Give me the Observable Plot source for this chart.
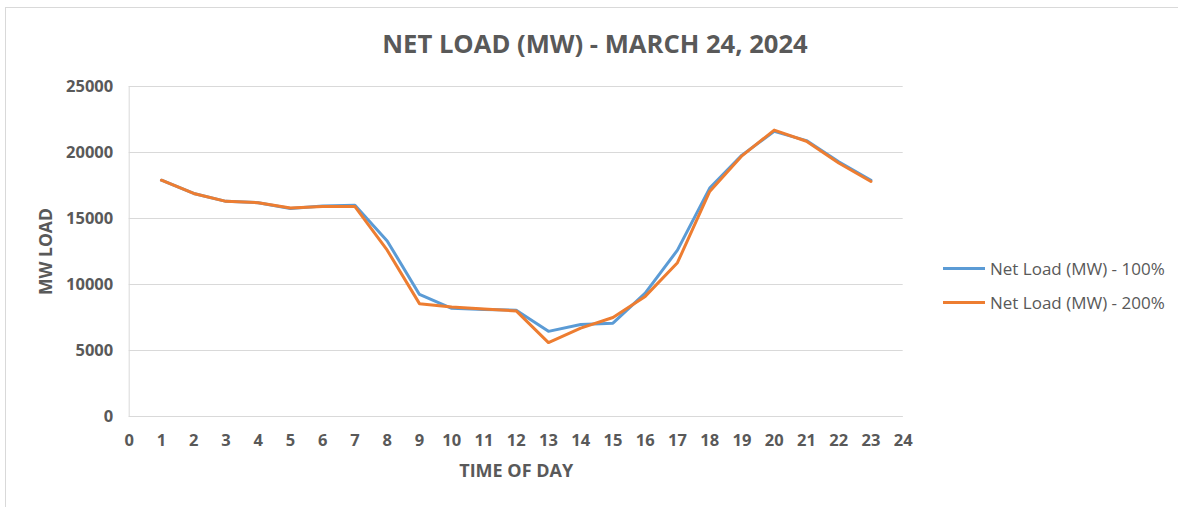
<!DOCTYPE html>
<html>
<head>
<meta charset="utf-8">
<script src="https://cdn.jsdelivr.net/npm/d3@7"></script>
<script src="https://cdn.jsdelivr.net/npm/@observablehq/plot@0.6"></script>
<style>
  html, body { margin: 0; padding: 0; background: #fff; }
  #wrap { position: relative; width: 1178px; height: 507px; overflow: hidden;
          font-family: "Open Sans", sans-serif; color: #595959; }
  #frame { position: absolute; left: 5px; top: 7px; width: 1190px; height: 520px; border: 1px solid #d9d9d9; box-sizing: border-box; }
  #title { position: absolute; left: 0; top: 26px; width: 1190px; text-align: center; font-size: 25.6px; font-weight: bold; color: #595959; }
  #chart { position: absolute; left: 0; top: 70px; }
  .leg { position: absolute; left: 943px; font-size: 17px; color: #595959; display: flex; align-items: center; }
  .leg span.sw { display: inline-block; width: 42px; height: 3px; margin-right: 5px; }
</style>
</head>
<body>
<div id="wrap">
  <div id="frame"></div>
  <div id="title">NET LOAD (MW) - MARCH 24, 2024</div>
  <div id="chart"></div>
  <div class="leg" style="top:257px"><span class="sw" style="background:#5b9bd5"></span>Net Load (MW) - 100%</div>
  <div class="leg" style="top:291px"><span class="sw" style="background:#ed7d31"></span>Net Load (MW) - 200%</div>
</div>
<script>
const hours = [1,2,3,4,5,6,7,8,9,10,11,12,13,14,15,16,17,18,19,20,21,22,23];
const load100 = [17900,16900,16300,16200,15750,15950,16000,13300,9250,8200,8100,8050,6450,6970,7070,9350,12600,17300,19800,21600,20900,19300,17900];
const load200 = [17900,16900,16300,16200,15800,15900,15900,12600,8550,8300,8150,8000,5600,6700,7500,9100,11650,17050,19750,21700,20850,19200,17800];
const xTicks = d3.range(0, 25);
const yTicks = [0,5000,10000,15000,20000,25000];
const seriesNames = ["Net Load (MW) - 100%", "Net Load (MW) - 200%"];
const seriesColors = ["#5b9bd5", "#ed7d31"];

const data = [];
hours.forEach((h, i) => data.push({hour: h, load: load100[i], series: seriesNames[0]}));
hours.forEach((h, i) => data.push({hour: h, load: load200[i], series: seriesNames[1]}));

const chart = Plot.plot({
  width: 930,
  height: 430,
  marginLeft: 128.7,
  marginRight: 27.3,
  marginTop: 16,
  marginBottom: 84,
  style: {fontFamily: '"Open Sans", sans-serif', color: "#595959", background: "transparent"},
  x: {domain: [0, 24]},
  y: {domain: [0, 25000]},
  color: {domain: seriesNames, range: seriesColors},
  marks: [
    Plot.gridY(yTicks, {stroke: "#d9d9d9", strokeOpacity: 1, strokeWidth: 1}),
    Plot.ruleX([0], {stroke: "#d9d9d9", strokeWidth: 1}),
    Plot.ruleY([0], {stroke: "#d9d9d9", strokeWidth: 1}),
    Plot.axisY(yTicks, {tickSize: 0, tickPadding: 16, fontSize: 16.5, fontWeight: "bold", fill: "#595959", label: null, tickFormat: d => String(d)}),
    Plot.axisX(xTicks, {tickSize: 0, tickPadding: 18, fontSize: 16.5, fontWeight: "bold", fill: "#595959", label: null, tickFormat: d => String(d)}),
    Plot.text(["MW LOAD"], {frameAnchor: "left", textAnchor: "middle", dx: -83, rotate: -90, fontSize: 17.5, fontWeight: "bold", fill: "#595959"}),
    Plot.text(["TIME OF DAY"], {frameAnchor: "bottom", textAnchor: "middle", lineAnchor: "middle", dy: 55, fontSize: 18, fontWeight: "bold", fill: "#595959"}),
    Plot.line(data, {x: "hour", y: "load", z: "series", stroke: "series", strokeWidth: 3, strokeLinejoin: "round", strokeLinecap: "round"})
  ]
});
document.getElementById("chart").appendChild(chart);
</script>
</body>
</html>
